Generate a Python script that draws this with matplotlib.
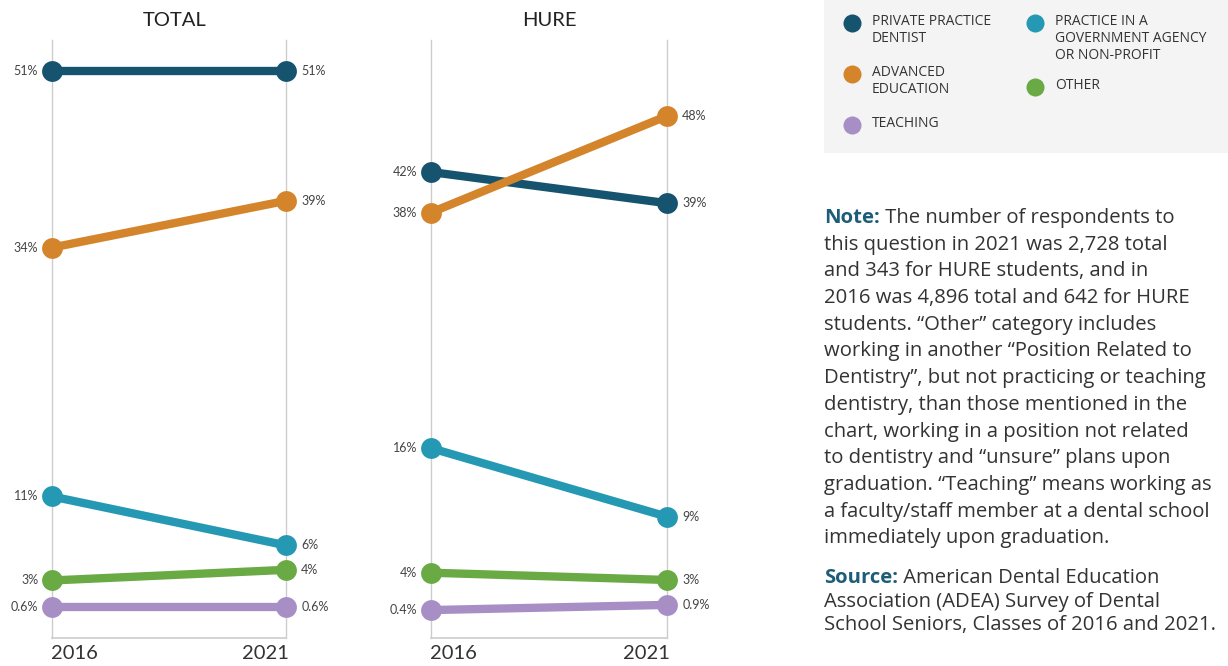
import matplotlib
matplotlib.use("Agg")
import matplotlib.pyplot as plt
from matplotlib.patches import Rectangle

plt.rcParams['font.family'] = ['Lato', 'DejaVu Sans']

years = ["2016", "2021"]
categories = ["Private practice dentist", "Advanced education",
              "Practice in a government agency or non-profit", "Other", "Teaching"]
total_2016 = [51, 34, 11, 3, 0.6]
total_2021 = [51, 39, 6, 4, 0.6]
hure_2016 = [42, 38, 16, 4, 0.4]
hure_2021 = [39, 48, 9, 3, 0.9]
total_labels_2016 = ["51%", "34%", "11%", "3%", "0.6%"]
total_labels_2021 = ["51%", "39%", "6%", "4%", "0.6%"]
hure_labels_2016 = ["42%", "38%", "16%", "4%", "0.4%"]
hure_labels_2021 = ["39%", "48%", "9%", "3%", "0.9%"]
# fine-tuned plotting positions (labels keep the rounded values)
total_pos_2016 = [51, 34.4, 11, 3.1, 0.6]
total_pos_2021 = [51, 38.8, 6.4, 4.1, 0.6]
hure_pos_2016 = [42.6, 38.7, 16, 4, 0.4]
hure_pos_2021 = [39.6, 48, 9.4, 3.3, 0.9]

colors = ["#15536e", "#d4852c", "#2599b3", "#6aaa45", "#a78fc6"]
draw_order = [0, 1, 2, 3, 4]

W, H = 1228, 666
fig = plt.figure(figsize=(W / 100, H / 100), dpi=100)
fig.patch.set_facecolor("white")

def px_axes(x0, x1, ytop, ybot):
    return fig.add_axes([x0 / W, (H - ybot) / H, (x1 - x0) / W, (ybot - ytop) / H])

def panel(x0, x1, title, title_dx, v16, v21, l16, l21, ylim):
    ax = px_axes(x0, x1, 40, 638)
    ax.set_xlim(0, 1)
    ax.set_ylim(*ylim)
    ax.axis("off")
    grid = "#cccccc"
    ax.plot([0, 0], ylim, color=grid, lw=1, zorder=1, clip_on=False)
    ax.plot([1, 1], ylim, color=grid, lw=1, zorder=1, clip_on=False)
    ax.plot([0, 1], [ylim[0], ylim[0]], color=grid, lw=1.2, zorder=1, clip_on=False)
    for i in draw_order:
        ax.plot([0, 1], [v16[i], v21[i]], color=colors[i], lw=6, solid_capstyle="butt",
                zorder=2 + i, clip_on=False)
        ax.plot([0, 1], [v16[i], v21[i]], "o", color=colors[i], ms=15, mew=0,
                zorder=2 + i, clip_on=False)
        ax.annotate(l16[i], (0, v16[i]), xytext=(-10, 0), textcoords="offset points",
                    ha="right", va="center", fontsize=9, color="#444444")
        ax.annotate(l21[i], (1, v21[i]), xytext=(11, 0), textcoords="offset points",
                    ha="left", va="center", fontsize=9, color="#444444")
    ax.annotate(title, (0.5, 1.0), xycoords="axes fraction", xytext=(title_dx, 20),
                textcoords="offset pixels", ha="center", va="center",
                fontsize=14.5, color="#222222")
    ax.annotate(years[0], (0, ylim[0]), xytext=(-1, -5), textcoords="offset points",
                ha="left", va="top", fontsize=14.5, color="#333333")
    ax.annotate(years[1], (1, ylim[0]), xytext=(2, -5), textcoords="offset points",
                ha="right", va="top", fontsize=14.5, color="#333333")
    return ax

panel(52, 286, "TOTAL", 6, total_pos_2016, total_pos_2021,
      total_labels_2016, total_labels_2021, (-2.31, 53.92))
panel(431, 667, "HURE", 0, hure_pos_2016, hure_pos_2021,
      hure_labels_2016, hure_labels_2021, (-2.29, 55.32))

# overlay in pixel coords for legend and notes
ov = fig.add_axes([0, 0, 1, 1], zorder=-1)
ov.set_xlim(0, W)
ov.set_ylim(H, 0)
ov.axis("off")
ov.add_patch(Rectangle((824, 0), 404, 153, facecolor="#f4f4f4", edgecolor="none"))

sans2 = ['Open Sans', 'DejaVu Sans']
leg_items = [
    (852, 23, colors[0], "PRIVATE PRACTICE\nDENTIST"),
    (852, 74, colors[1], "ADVANCED\nEDUCATION"),
    (852, 125, colors[4], "TEACHING"),
    (1035, 23, colors[2], "PRACTICE IN A\nGOVERNMENT AGENCY\nOR NON-PROFIT"),
    (1035, 87, colors[3], "OTHER"),
]
for x, y, c, t in leg_items:
    ov.plot([x], [y], "o", color=c, ms=13, mew=0)
    ov.text(x + 20, y - 9, t, ha="left", va="top", fontsize=10, color="#333333",
            linespacing=1.2, family=sans2)

note_lines = [
    "The number of respondents to",
    "this question in 2021 was 2,728 total",
    "and 343 for HURE students, and in",
    "2016 was 4,896 total and 642 for HURE",
    "students. \u201cOther\u201d category includes",
    "working in another \u201cPosition Related to",
    "Dentistry\u201d, but not practicing or teaching",
    "dentistry, than those mentioned in the",
    "chart, working in a position not related",
    "to dentistry and \u201cunsure\u201d plans upon",
    "graduation. \u201cTeaching\u201d means working as",
    "a faculty/staff member at a dental school",
    "immediately upon graduation.",
]
source_lines = [
    "American Dental Education",
    "Association (ADEA) Survey of Dental",
    "School Seniors, Classes of 2016 and 2021.",
]
fs = 14.6
teal = "#1d5d78"
txtc = "#333333"
x0 = 824
y = 218
step = 26.7
for i, line in enumerate(note_lines):
    if i == 0:
        t = ov.text(x0, y, "Note:", ha="left", va="center", fontsize=fs, color=teal,
                    fontweight="bold", family=sans2)
        ov.annotate(" " + line, xycoords=t, xy=(1, 0.5), ha="left", va="center",
                    fontsize=fs, color=txtc, family=sans2)
    else:
        ov.text(x0, y, line, ha="left", va="center", fontsize=fs, color=txtc, family=sans2)
    y += step
y = 578
for i, line in enumerate(source_lines):
    if i == 0:
        t = ov.text(x0, y, "Source:", ha="left", va="center", fontsize=fs, color=teal,
                    fontweight="bold", family=sans2)
        ov.annotate(" " + line, xycoords=t, xy=(1, 0.5), ha="left", va="center",
                    fontsize=fs, color=txtc, family=sans2)
    else:
        ov.text(x0, y, line, ha="left", va="center", fontsize=fs, color=txtc, family=sans2)
    y += 23.5

fig.savefig("out.png", dpi=100)
